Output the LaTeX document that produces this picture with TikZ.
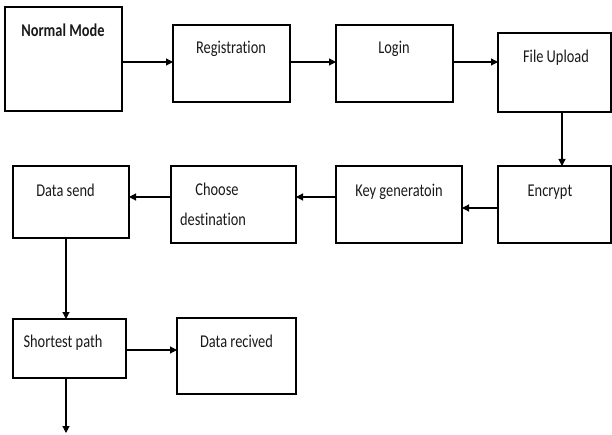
\documentclass[tikz,border=0pt]{standalone}
\usepackage{fontspec}
\setmainfont{Carlito}[FakeStretch=0.8, Ligatures=NoCommon]
\usetikzlibrary{arrows.meta}
\begin{document}
\begin{tikzpicture}[x=1pt,y=-1pt,
  box/.style={draw, line width=1.3pt, rectangle, inner sep=0pt, outer sep=0pt},
  lbl/.style={anchor=base, inner sep=0pt, font=\fontsize{18}{21}\selectfont, text=black!90},
  arr/.style={line width=1.2pt, -{Triangle[length=7pt,width=7pt]}}]
\useasboundingbox (0,0) rectangle (612,435);
% boxes
\node[box, minimum width=117pt, minimum height=104pt] (nm) at (63.5,59) {};
\node[box, minimum width=117pt, minimum height=77pt] (reg) at (231.5,63.5) {};
\node[box, minimum width=117pt, minimum height=77pt] (login) at (394.5,63.5) {};
\node[box, minimum width=113pt, minimum height=79pt] (fu) at (554.5,72.5) {};
\node[box, minimum width=113pt, minimum height=77pt] (enc) at (554.5,204.5) {};
\node[box, minimum width=126pt, minimum height=77pt] (key) at (399,204.5) {};
\node[box, minimum width=125pt, minimum height=77pt] (cd) at (233.5,204.5) {};
\node[box, minimum width=116pt, minimum height=72pt] (ds) at (71,202) {};
\node[box, minimum width=113pt, minimum height=59pt] (sp) at (69.5,348.5) {};
\node[box, minimum width=119pt, minimum height=76pt] (dr) at (236.5,356) {};
% labels
\node[lbl, font=\fontsize{18}{21}\selectfont\bfseries] (tnm) at (63,37) {Normal Mode};
\node[lbl] (treg) at (231,54) {Registration};
\node[lbl] (tlogin) at (394,54) {Login};
\node[lbl] (tfu) at (556,63) {File Upload};
\node[lbl] (tenc) at (550,197) {Encrypt};
\node[lbl] (tkey) at (399,197) {Key generatoin};
\node[lbl] (tcd1) at (217,196) {Choose};
\node[lbl] (tcd2) at (213,226) {destination};
\node[lbl] (tds) at (65.5,197) {Data send};
\node[lbl] (tsp) at (63,347) {Shortest path};
\node[lbl] (tdr) at (236.5,347) {Data recived};
% connectors
\coordinate (endpt) at (66,433);
\draw[arr] (nm.east |- 0,62) -- (reg.west |- 0,62);
\draw[arr] (reg.east |- 0,62) -- (login.west |- 0,62);
\draw[arr] (login.east |- 0,62) -- (fu.west |- 0,62);
\draw[arr] (fu.south -| 562,0) -- (enc.north -| 562,0);
\draw[arr] (enc.west |- 0,208) -- (key.east |- 0,208);
\draw[arr] (key.west |- 0,197) -- (cd.east |- 0,197);
\draw[arr] (cd.west |- 0,197) -- (ds.east |- 0,197);
\draw[arr] (ds.south -| 66,0) -- (sp.north -| 66,0);
\draw[arr] (sp.east |- 0,350) -- (dr.west |- 0,350);
\draw[arr] (sp.south -| endpt) -- (endpt);
\end{tikzpicture}
\end{document}
